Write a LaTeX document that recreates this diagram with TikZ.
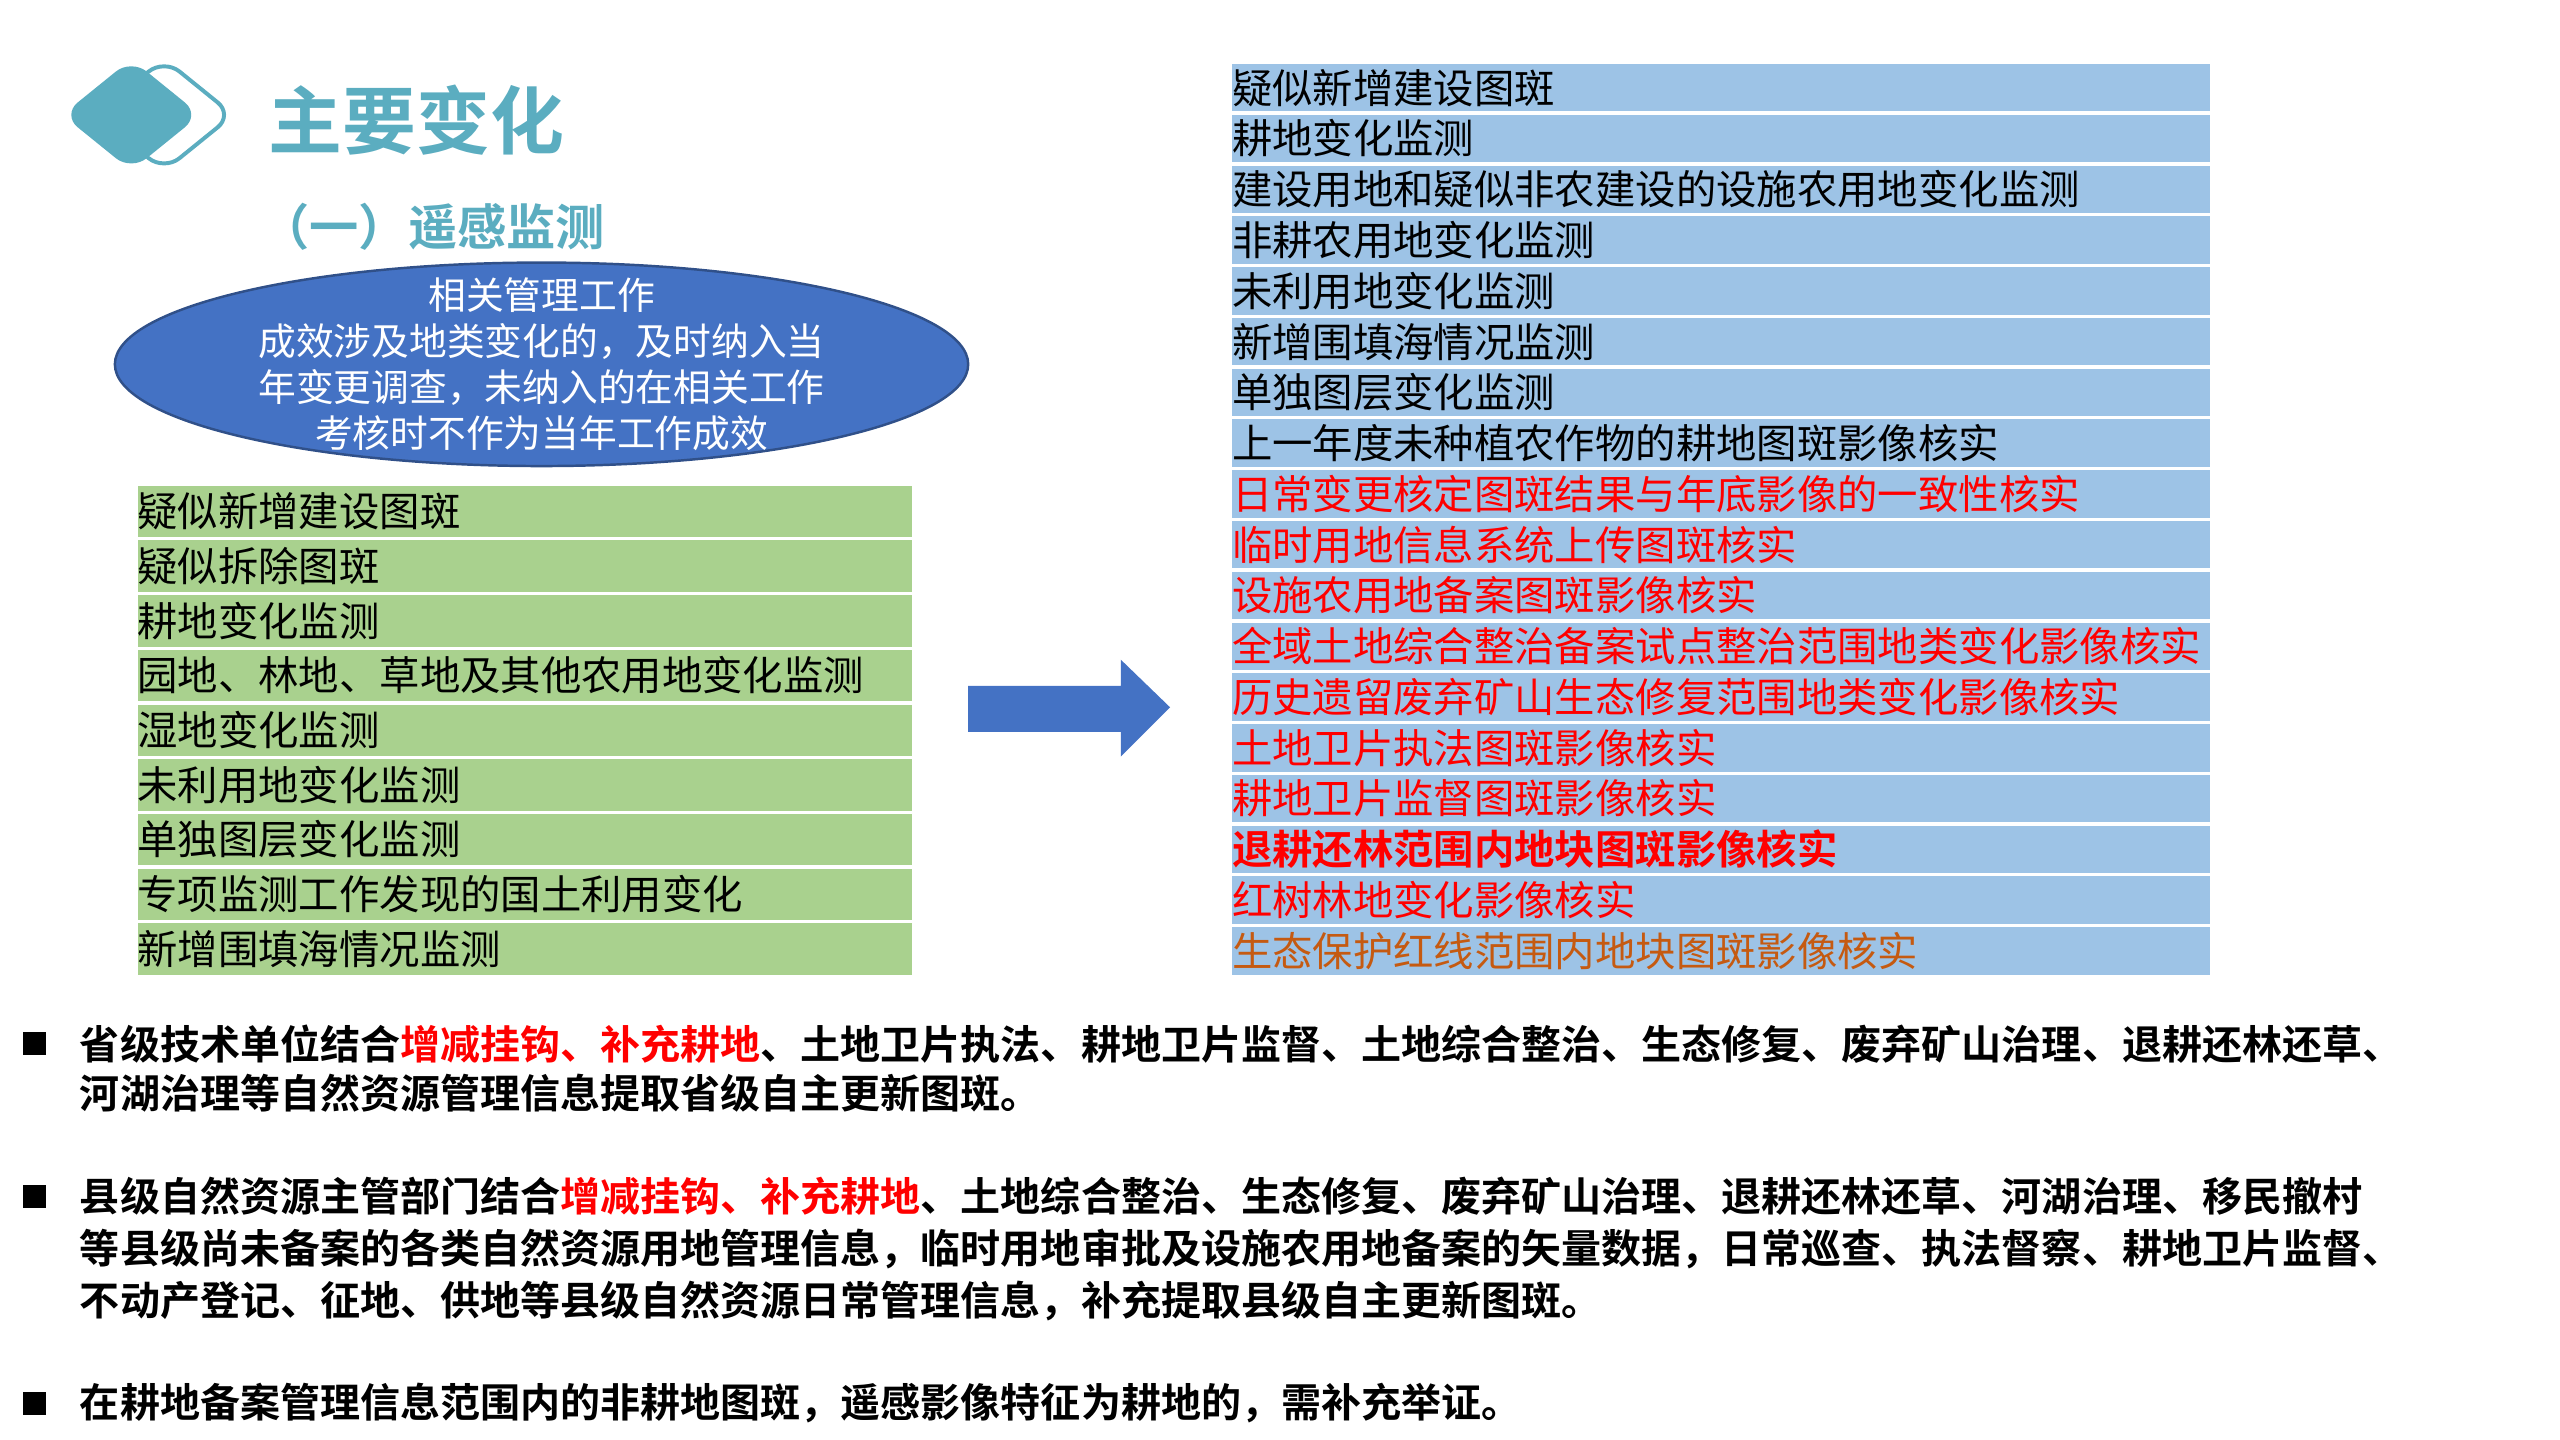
\documentclass[tikz,border=0pt]{standalone}
\usepackage{fontspec}
\setmainfont{Noto Sans CJK SC}[BoldFont={Noto Sans CJK SC Bold}]
\usetikzlibrary{positioning}
\definecolor{teal}{RGB}{91,173,192}
\definecolor{blueov}{RGB}{68,114,196}
\definecolor{greenrow}{RGB}{169,209,142}
\definecolor{bluerow}{RGB}{157,195,230}
\definecolor{orangetxt}{RGB}{197,90,17}
\tikzset{every picture/.style={line width=0.75pt},
  rowtext/.style={anchor=west,inner sep=0pt,font=\fontsize{12.3}{14}\selectfont},
  bullettext/.style={anchor=west,inner sep=0pt,font=\fontsize{12.2}{14}\selectfont\bfseries}}

\begin{document}
\begin{tikzpicture}[x=0.5pt,y=0.5pt,yscale=-1,xscale=1]
\useasboundingbox (0,0) rectangle (1560,877.5);

%Shape: Diamonds
\draw[teal,line width=1.2pt,fill=white,rounded corners=6pt] (100,36) -- (142,70) -- (100,104) -- (58,70) -- cycle;
\fill[teal,rounded corners=6pt] (80,36) -- (122,70) -- (80,104) -- (38,70) -- cycle;

% Titles
\node[anchor=west,inner sep=0pt,text=teal,font=\fontsize{22.5}{26}\selectfont\bfseries] (title) at (163,73) {主要变化};
\node[anchor=west,inner sep=0pt,text=teal,font=\fontsize{15}{18}\selectfont\bfseries] (subtitle) at (158,138) {（一）遥感监测};

%Shape: Ellipse
\draw[fill=blueov,draw=blueov!70!black] (330,222) ellipse [x radius=260,y radius=62];
\node[text=white,align=center,font=\fontsize{11.5}{14}\selectfont] (oval) at (330,222) {相关管理工作\\成效涉及地类变化的，及时纳入当\\年变更调查，未纳入的在相关工作\\考核时不作为当年工作成效};

% Green list
\foreach \t [count=\i] in {疑似新增建设图斑,疑似拆除图斑,耕地变化监测,园地、林地、草地及其他农用地变化监测,湿地变化监测,未利用地变化监测,单独图层变化监测,专项监测工作发现的国土利用变化,新增围填海情况监测}{
  \draw[fill=greenrow,draw=white,line width=1pt] (83,{295+33.33*(\i-1)}) rectangle (557,{295+33.33*\i});
  \node[rowtext] (g\i) at (83,{295+33.33*(\i-0.5)}) {\t};
}

% Arrow
\fill[blueov] (590,418) -- (683,418) -- (683,402) -- (713,431) -- (683,461) -- (683,446) -- (590,446) -- cycle;

% Blue list
\foreach \t/\c [count=\i] in {疑似新增建设图斑/black,耕地变化监测/black,建设用地和疑似非农建设的设施农用地变化监测/black,非耕农用地变化监测/black,未利用地变化监测/black,新增围填海情况监测/black,单独图层变化监测/black,上一年度未种植农作物的耕地图斑影像核实/black,日常变更核定图斑结果与年底影像的一致性核实/red,临时用地信息系统上传图斑核实/red,设施农用地备案图斑影像核实/red,全域土地综合整治备案试点整治范围地类变化影像核实/red,历史遗留废弃矿山生态修复范围地类变化影像核实/red,土地卫片执法图斑影像核实/red,耕地卫片监督图斑影像核实/red,{\bfseries 退耕还林范围内地块图斑影像核实}/red,红树林地变化影像核实/red,生态保护红线范围内地块图斑影像核实/orangetxt}{
  \draw[fill=bluerow,draw=white,line width=1pt] (750,{38+30.94*(\i-1)}) rectangle (1348,{38+30.94*\i});
  \node[rowtext,text=\c] (b\i) at (750,{38+30.94*(\i-0.5)}) {\t};
}

% Bullets
\foreach \y in {636,729,855}{
  \fill (14,\y-7) rectangle (28,\y+7);
}
\node[bullettext] (p1a) at (48,636) {省级技术单位结合\textcolor{red}{增减挂钩、补充耕地}、土地卫片执法、耕地卫片监督、土地综合整治、生态修复、废弃矿山治理、退耕还林还草、};
\node[bullettext] (p1b) at (48,666) {河湖治理等自然资源管理信息提取省级自主更新图斑。};
\node[bullettext] (p2a) at (48,729) {县级自然资源主管部门结合\textcolor{red}{增减挂钩、补充耕地}、土地综合整治、生态修复、废弃矿山治理、退耕还林还草、河湖治理、移民撤村};
\node[bullettext] (p2b) at (48,761) {等县级尚未备案的各类自然资源用地管理信息，临时用地审批及设施农用地备案的矢量数据，日常巡查、执法督察、耕地卫片监督、};
\node[bullettext] (p2c) at (48,793) {不动产登记、征地、供地等县级自然资源日常管理信息，补充提取县级自主更新图斑。};
\node[bullettext] (p3) at (48,855) {在耕地备案管理信息范围内的非耕地图斑，遥感影像特征为耕地的，需补充举证。};

\end{tikzpicture}
\end{document}
